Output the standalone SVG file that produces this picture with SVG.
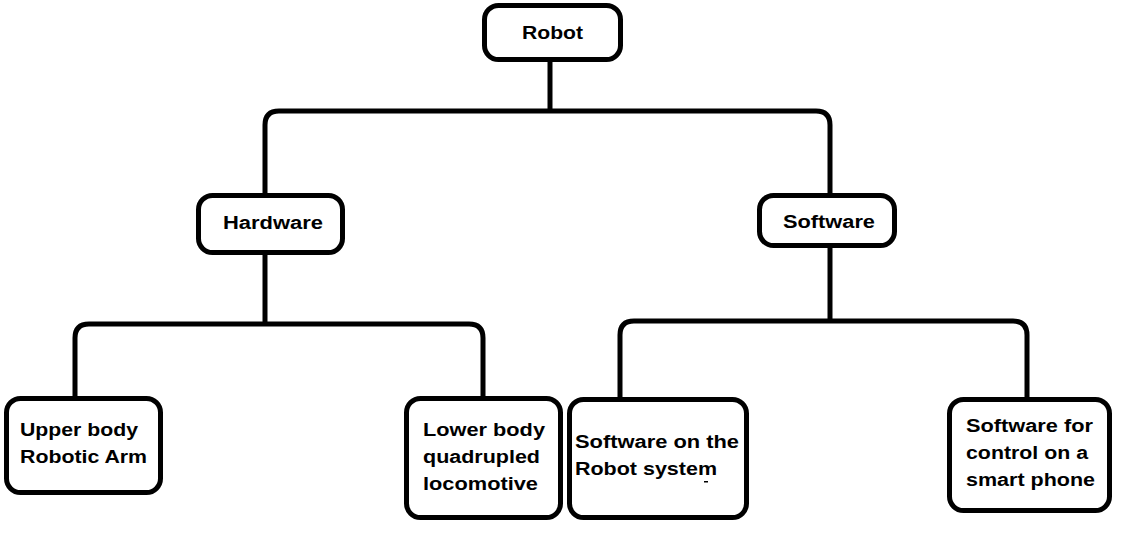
<svg xmlns="http://www.w3.org/2000/svg" width="1122" height="538" viewBox="0 0 1122 538">
<style>
.box{fill:#fff;stroke:#000;stroke-width:5}
.con{fill:none;stroke:#000;stroke-width:5}
text{font-family:"Liberation Sans",Arial,sans-serif;font-weight:bold;font-size:18px;fill:#000}
</style>
<rect width="1122" height="538" fill="#fff"/>
<g id="connectors">
<path class="con" d="M550,60 V111"/>
<path class="con" d="M265,193 V125 Q265,111 279,111 H816 Q830,111 830,125 V193"/>
<path class="con" d="M265,255 V324"/>
<path class="con" d="M75,396 V338 Q75,324 89,324 H469 Q483,324 483,338 V396"/>
<path class="con" d="M830,248 V321"/>
<path class="con" d="M620,397 V335 Q620,321 634,321 H1013 Q1027,321 1027,335 V397"/>
</g>
<g id="robot">
<rect class="box" x="484.5" y="5.5" width="136" height="54" rx="14"/>
<text x="522" y="39" textLength="61" lengthAdjust="spacingAndGlyphs">Robot</text>
</g>
<g id="hardware">
<rect class="box" x="198.5" y="195.5" width="144" height="57" rx="14"/>
<text x="223" y="229" textLength="100" lengthAdjust="spacingAndGlyphs">Hardware</text>
</g>
<g id="software">
<rect class="box" x="759.5" y="195.5" width="135" height="50" rx="14"/>
<text x="783" y="228" textLength="92" lengthAdjust="spacingAndGlyphs">Software</text>
</g>
<g id="upper-body">
<rect class="box" x="6.5" y="398.5" width="154" height="94" rx="14"/>
<text x="20" y="436" textLength="118" lengthAdjust="spacingAndGlyphs">Upper body</text>
<text x="20" y="463" textLength="127" lengthAdjust="spacingAndGlyphs">Robotic Arm</text>
</g>
<g id="lower-body">
<rect class="box" x="406.5" y="398.5" width="154" height="119" rx="14"/>
<text x="423" y="436" textLength="122" lengthAdjust="spacingAndGlyphs">Lower body</text>
<text x="423" y="463" textLength="117" lengthAdjust="spacingAndGlyphs">quadrupled</text>
<text x="423" y="490" textLength="115" lengthAdjust="spacingAndGlyphs">locomotive</text>
</g>
<g id="software-robot">
<rect class="box" x="569.5" y="399.5" width="177" height="118" rx="14"/>
<text x="575" y="448" textLength="164" lengthAdjust="spacingAndGlyphs">Software on the</text>
<text x="575" y="475" textLength="142" lengthAdjust="spacingAndGlyphs">Robot system</text>
<rect x="704" y="481" width="4" height="1.5" fill="#000"/>
</g>
<g id="software-phone">
<rect class="box" x="949.5" y="399.5" width="160" height="111" rx="14"/>
<text x="966" y="432" textLength="127" lengthAdjust="spacingAndGlyphs">Software for</text>
<text x="966" y="459" textLength="122" lengthAdjust="spacingAndGlyphs">control on a</text>
<text x="966" y="486" textLength="129" lengthAdjust="spacingAndGlyphs">smart phone</text>
</g>
</svg>
